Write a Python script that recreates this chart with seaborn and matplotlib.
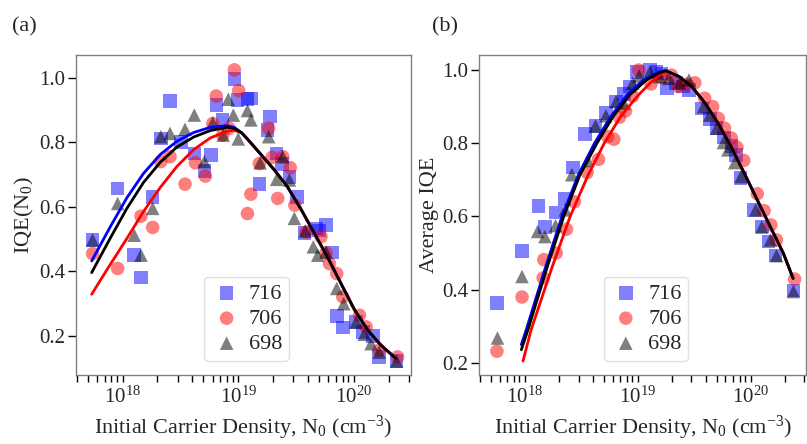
import numpy as np
import pandas as pd
import seaborn as sns
import matplotlib
matplotlib.use("Agg")
import matplotlib.pyplot as plt

sns.set_theme(style="ticks")
plt.rcParams['font.family'] = ['Liberation Serif', 'DejaVu Serif']
plt.rcParams['mathtext.fontset'] = 'custom'
plt.rcParams['mathtext.rm'] = 'Liberation Serif'
plt.rcParams['mathtext.it'] = 'Liberation Serif:italic'

#%% data (log10 of N0 in cm^-3)
# panel (a): IQE(N0)
a716_logn = [17.74, 17.957, 18.10, 18.159, 18.26, 18.33, 18.41, 18.505, 18.62, 18.707, 18.765, 18.814,
             18.866, 18.967, 18.996, 19.08, 19.11, 19.183, 19.255, 19.276, 19.333, 19.377, 19.443, 19.51,
             19.573, 19.674, 19.70, 19.76, 19.81, 19.853, 19.905, 20.02, 20.08, 20.165, 20.22, 20.37]
a716_iqe = [0.497, 0.657, 0.45, 0.381, 0.631, 0.812, 0.928, 0.80, 0.765, 0.711, 0.76, 0.915,
            0.869, 0.996, 0.931, 0.933, 0.936, 0.67, 0.838, 0.879, 0.765, 0.732, 0.693, 0.631,
            0.519, 0.533, 0.526, 0.543, 0.458, 0.262, 0.226, 0.243, 0.212, 0.199, 0.135, 0.122]

a706_logn = [17.74, 17.957, 18.159, 18.26, 18.33, 18.41, 18.54, 18.63, 18.716, 18.78, 18.81, 18.866,
             18.92, 18.967, 19.004, 19.08, 19.11, 19.183, 19.264, 19.293, 19.342, 19.386, 19.45, 19.49,
             19.587, 19.717, 19.76, 19.79, 19.853, 19.905, 20.05, 20.107, 20.22, 20.38]
a706_iqe = [0.455, 0.409, 0.571, 0.536, 0.74, 0.755, 0.67, 0.736, 0.695, 0.858, 0.943, 0.822,
            0.843, 1.024, 0.96, 0.579, 0.639, 0.734, 0.843, 0.753, 0.626, 0.755, 0.721, 0.605,
            0.522, 0.507, 0.457, 0.424, 0.393, 0.321, 0.264, 0.228, 0.156, 0.135]

a698_logn = [17.74, 17.957, 18.10, 18.159, 18.26, 18.33, 18.41, 18.54, 18.62, 18.707, 18.78, 18.87,
             18.915, 18.958, 19.00, 19.08, 19.11, 19.19, 19.264, 19.333, 19.386, 19.443, 19.486, 19.58,
             19.65, 19.688, 19.76, 19.853, 19.913, 20.02, 20.09, 20.15, 20.22, 20.37]
a698_iqe = [0.497, 0.61, 0.512, 0.45, 0.595, 0.817, 0.827, 0.84, 0.884, 0.74, 0.86, 0.822,
            0.933, 0.884, 0.81, 0.898, 0.869, 0.736, 0.817, 0.685, 0.755, 0.683, 0.564, 0.525,
            0.476, 0.45, 0.46, 0.347, 0.30, 0.243, 0.205, 0.176, 0.15, 0.122]

# fitted curves (a), shared tail above ~1e19
a_tail_logn = [19.03, 19.082, 19.197, 19.313, 19.428, 19.544, 19.659, 19.775, 19.89, 20.005, 20.121, 20.236, 20.366]
a_tail_iqe = [0.829, 0.809, 0.762, 0.714, 0.661, 0.592, 0.518, 0.443, 0.362, 0.282, 0.218, 0.171, 0.13]
a_fit716_logn = [17.732, 17.893, 18.037, 18.18, 18.326, 18.47, 18.615, 18.758, 18.903, 18.966]
a_fit716_iqe = [0.432, 0.538, 0.628, 0.703, 0.762, 0.803, 0.83, 0.846, 0.851, 0.846]
a_fit698_logn = [17.732, 17.893, 18.037, 18.18, 18.326, 18.47, 18.615, 18.758, 18.903, 18.966]
a_fit698_iqe = [0.396, 0.503, 0.595, 0.675, 0.738, 0.785, 0.816, 0.836, 0.846, 0.843]
a_fit706_logn = [17.732, 17.864, 18.037, 18.18, 18.326, 18.47, 18.615, 18.758, 18.903, 18.966]
a_fit706_iqe = [0.329, 0.405, 0.502, 0.585, 0.66, 0.725, 0.777, 0.813, 0.834, 0.837]

# panel (b): average IQE
b716_logn = [17.755, 17.977, 18.124, 18.18, 18.28, 18.354, 18.427, 18.533, 18.628, 18.72, 18.81, 18.88,
             18.93, 18.994, 19.11, 19.167, 19.21, 19.26, 19.34, 19.40, 19.455, 19.57, 19.64, 19.70,
             19.767, 19.83, 19.87, 19.91, 20.03, 20.10, 20.16, 20.22, 20.38]
b716_iqe = [0.364, 0.505, 0.629, 0.571, 0.611, 0.647, 0.734, 0.825, 0.847, 0.882, 0.914, 0.935,
            0.955, 0.995, 1.0, 0.995, 0.991, 0.95, 0.964, 0.955, 0.945, 0.895, 0.866, 0.841,
            0.816, 0.793, 0.768, 0.705, 0.618, 0.573, 0.532, 0.493, 0.398]

b706_logn = [17.755, 17.977, 18.164, 18.17, 18.28, 18.37, 18.44, 18.553, 18.654, 18.735, 18.79, 18.84,
             18.893, 18.957, 19.01, 19.12, 19.21, 19.30, 19.36, 19.43, 19.507, 19.594, 19.665, 19.715,
             19.77, 19.83, 19.88, 19.94, 20.06, 20.12, 20.18, 20.23, 20.39]
b706_iqe = [0.232, 0.38, 0.432, 0.482, 0.5, 0.565, 0.64, 0.72, 0.756, 0.818, 0.811, 0.871,
            0.888, 0.929, 1.0, 0.962, 0.98, 0.986, 0.955, 0.961, 0.965, 0.923, 0.9, 0.868,
            0.841, 0.814, 0.789, 0.753, 0.662, 0.616, 0.577, 0.536, 0.429]

b698_logn = [17.76, 17.977, 18.115, 18.18, 18.274, 18.36, 18.418, 18.56, 18.628, 18.72, 18.81, 18.88,
             18.957, 19.014, 19.11, 19.196, 19.28, 19.37, 19.455, 19.584, 19.64, 19.70, 19.76, 19.80,
             19.86, 19.916, 20.046, 20.10, 20.176, 20.23, 20.38]
b698_iqe = [0.268, 0.436, 0.559, 0.545, 0.575, 0.618, 0.714, 0.753, 0.847, 0.875, 0.914, 0.909,
            0.964, 0.984, 0.995, 0.982, 0.977, 0.965, 0.973, 0.9, 0.877, 0.841, 0.802, 0.782,
            0.747, 0.709, 0.618, 0.571, 0.536, 0.493, 0.395]

# fitted curves (b), shared tail above the peak
b_tail_logn = [19.25, 19.368, 19.483, 19.599, 19.714, 19.829, 19.945, 20.06, 20.175, 20.29, 20.377]
b_tail_iqe = [0.998, 0.982, 0.954, 0.909, 0.854, 0.79, 0.718, 0.645, 0.572, 0.50, 0.431]
b_fit716_logn = [17.971, 18.014, 18.187, 18.331, 18.475, 18.619, 18.763, 18.907, 19.051, 19.195]
b_fit716_iqe = [0.25, 0.29, 0.463, 0.60, 0.713, 0.80, 0.873, 0.932, 0.973, 0.995]
b_fit698_logn = [17.971, 18.029, 18.201, 18.346, 18.489, 18.64, 18.783, 18.93, 19.08, 19.195]
b_fit698_iqe = [0.236, 0.29, 0.463, 0.60, 0.713, 0.80, 0.873, 0.932, 0.973, 0.993]
b_fit706_logn = [17.986, 18.057, 18.245, 18.403, 18.562, 18.705, 18.85, 18.994, 19.109, 19.195]
b_fit706_iqe = [0.205, 0.29, 0.463, 0.60, 0.713, 0.80, 0.873, 0.927, 0.964, 0.986]

samples = ['716', '706', '698']
colors = {'716': 'blue', '706': 'red', '698': 'black'}
markers = {'716': 's', '706': 'o', '698': '^'}


def panel(ax, pts, fits, tail, ylim, ylabel):
    for name in samples:
        logn, iqe = pts[name]
        d = pd.DataFrame({'N': 10 ** np.array(logn), 'IQE': iqe})
        sns.scatterplot(data=d, x='N', y='IQE', ax=ax, marker=markers[name], color=colors[name],
                        alpha=0.5, s=95, edgecolor='none', label=name, zorder=2)
    # fits: blue, red, then black on top
    for name in ['716', '706', '698']:
        logn, iqe = fits[name]
        d = pd.DataFrame({'N': 10 ** np.array(list(logn) + tail[0]), 'IQE': list(iqe) + tail[1]})
        sns.lineplot(data=d, x='N', y='IQE', ax=ax, color=colors[name], lw=2,
                     sort=False, estimator=None, legend=False, zorder=3)
    ax.set_xscale('log')
    ax.set_xlim(3.95e17, 3.1e20)
    ax.set_ylim(*ylim)
    ax.set_yticks([0.2, 0.4, 0.6, 0.8, 1.0])
    ax.set_xlabel(r'Initial Carrier Density, N$_0$ (cm$^{-3}$)', fontsize=16, labelpad=5)
    ax.set_ylabel(ylabel, fontsize=16, labelpad=2)
    ax.tick_params(axis='y', which='major', direction='out', length=6, width=1,
                   labelsize=15, color='black', pad=2)
    ax.tick_params(axis='x', which='both', direction='out', length=5, width=1,
                   labelsize=15, color='black', pad=3)
    for sp in ax.spines.values():
        sp.set_visible(True)
        sp.set_color('0.5')
        sp.set_linewidth(1)
    leg = ax.legend(loc='lower center', bbox_to_anchor=(0.51, 0.01), fontsize=16,
                    handletextpad=0.3, borderpad=0.3, labelspacing=0.2, handlelength=1.4,
                    frameon=True, fancybox=True)
    leg.get_frame().set_edgecolor('0.85')


fig = plt.figure(figsize=(8.07, 4.44), dpi=100)
ax1 = fig.add_axes([0.0942, 0.1554, 0.4145, 0.7207])
ax2 = fig.add_axes([0.5936, 0.1554, 0.4052, 0.7207])

panel(ax1,
      {'716': (a716_logn, a716_iqe), '706': (a706_logn, a706_iqe), '698': (a698_logn, a698_iqe)},
      {'716': (a_fit716_logn, a_fit716_iqe), '706': (a_fit706_logn, a_fit706_iqe),
       '698': (a_fit698_logn, a_fit698_iqe)},
      (a_tail_logn, a_tail_iqe), (0.079, 1.07), r'IQE(N$_0$)')
panel(ax2,
      {'716': (b716_logn, b716_iqe), '706': (b706_logn, b706_iqe), '698': (b698_logn, b698_iqe)},
      {'716': (b_fit716_logn, b_fit716_iqe), '706': (b_fit706_logn, b_fit706_iqe),
       '698': (b_fit698_logn, b_fit698_iqe)},
      (b_tail_logn, b_tail_iqe), (0.167, 1.041), 'Average IQE')

fig.text(12 / 807, 1 - 27 / 444, '(a)', fontsize=16, va='center', ha='left')
fig.text(432 / 807, 1 - 27 / 444, '(b)', fontsize=16, va='center', ha='left')

fig.savefig('out.png', dpi=100)
